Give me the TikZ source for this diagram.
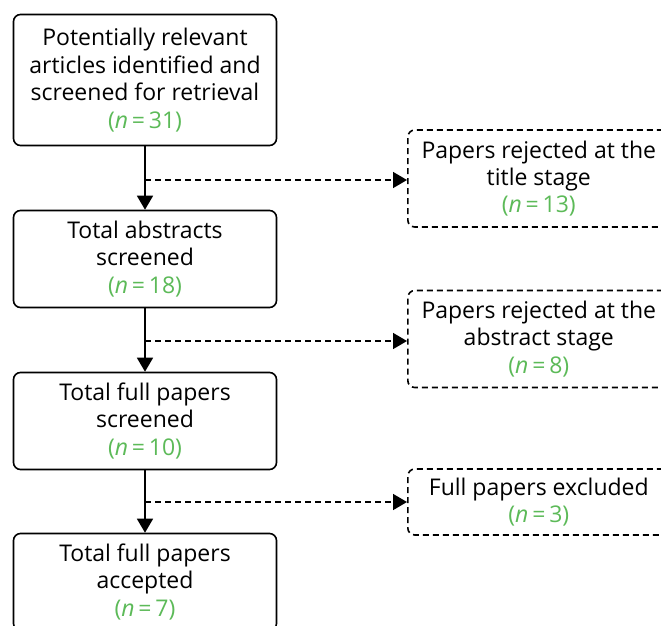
\documentclass[tikz,border=0pt]{standalone}
\usepackage{fontspec}
\setmainfont{Open Sans}
\usetikzlibrary{arrows.meta}
\definecolor{ngreen}{RGB}{92,186,88}
\newcommand{\ncount}[1]{\textcolor{ngreen}{(\textit{n}\,=\,#1)}}
\tikzset{
  every node/.style={font=\fontsize{23}{27.4}\selectfont, align=center, inner sep=0pt},
  mainbox/.style={draw, line width=1.6pt, rounded corners=7pt, minimum width=263pt, minimum height=131pt},
  sidebox/.style={draw, dashed, dash pattern=on 6pt off 4pt, line width=1.6pt, rounded corners=7pt, minimum width=262pt},
  flow/.style={line width=1.6pt, -{Triangle[length=14pt,width=16pt]}},
  reject/.style={flow, dash pattern=on 6pt off 4pt},
}
\begin{document}
\begin{tikzpicture}[x=1pt, y=-1pt]
\useasboundingbox (0,0) rectangle (661,625);
\clip (0,0) rectangle (661,625);
\fill[white] (0,0) rectangle (661,625);
% main column
\node[mainbox] (b1) at (145,80) {Potentially relevant\\articles identified and\\screened for retrieval\\\ncount{31}};
\node[mainbox, minimum height=97pt] (b2) at (145,259) {Total abstracts\\screened\\\ncount{18}};
\node[mainbox, minimum height=97pt] (b3) at (145,421) {Total full papers\\screened\\\ncount{10}};
\node[mainbox, minimum height=97pt] (b4) at (145,582) {Total full papers\\accepted\\\ncount{7}};
% exclusion boxes on the right
\node[sidebox, minimum height=97pt, anchor=west] (r1) at (407,178.5) {Papers rejected at the\\title stage\\\ncount{13}};
\node[sidebox, minimum height=97pt, anchor=west] (r2) at (407,339) {Papers rejected at the\\abstract stage\\\ncount{8}};
\node[sidebox, minimum height=66pt, anchor=west] (r3) at (407,502) {Full papers excluded\\\ncount{3}};
% branch points on the main flow
\coordinate (j1) at (145,180);
\coordinate (j2) at (145,341);
\coordinate (j3) at (145,502);
\draw[flow] (b1) -- (b2);
\draw[flow] (b2) -- (b3);
\draw[flow] (b3) -- (b4);
\draw[reject] (j1) -- (j1 -| r1.west);
\draw[reject] (j2) -- (j2 -| r2.west);
\draw[reject] (j3) -- (j3 -| r3.west);
\end{tikzpicture}
\end{document}
